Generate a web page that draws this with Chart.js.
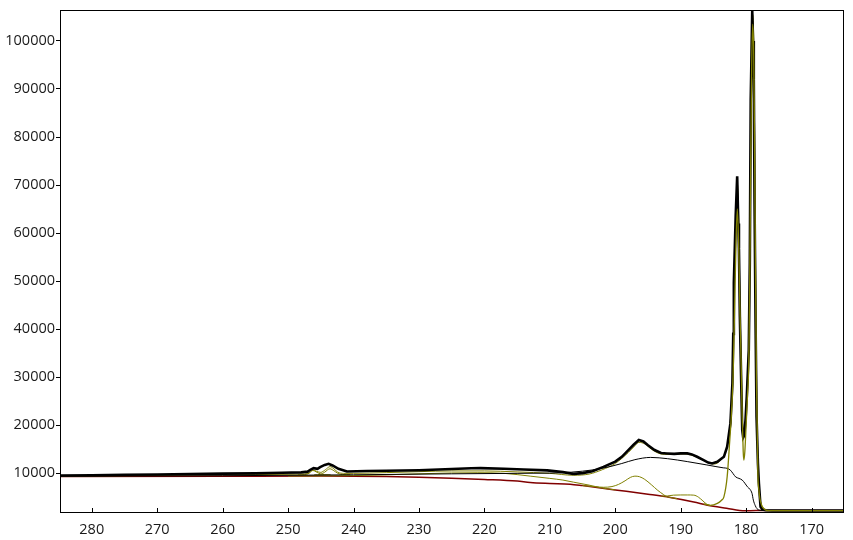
<!DOCTYPE html>
<html><head><meta charset="utf-8">
<script src="https://cdn.jsdelivr.net/npm/chart.js@4.4.0/dist/chart.umd.min.js"></script>
<style>html,body{margin:0;padding:0;background:#fff;} #wrap{width:853px;height:540px;position:relative;}</style>
</head><body><div id="wrap"><canvas id="c"></canvas></div>
<script>
// Axis ticks
const xTicks = [280,270,260,250,240,230,220,210,200,190,180,170];
const yTicks = [10000,20000,30000,40000,50000,60000,70000,80000,90000,100000];

// Measured spectrum [binding energy, counts]
const measured = [[285,9500],[280,9550],[275,9650],[270,9700],[265,9800],[260,9900],[255,9950],[251,10060],[248,10150],[247,10300],[246.6,10700],[246.1,11040],[245.5,10900],[245.1,11250],[244.4,11700],[243.8,11940],[243.2,11600],[242.3,10900],[241,10350],[238,10450],[235,10500],[230,10600],[226,10800],[222,11000],[220.6,11040],[217,10900],[214,10750],[210.4,10560],[208,10200],[206.4,9850],[205,10000],[203.5,10400],[201.8,11300],[200,12400],[199,13400],[198,14800],[197.2,15900],[196.4,16900],[195.7,16600],[195,15800],[194,14800],[193,14200],[192.1,14100],[191,14000],[190,14100],[189,14100],[188.3,13900],[187.5,13400],[186.5,12700],[185.8,12200],[185.2,12000],[184.4,12360],[183.9,12900],[183.4,13400],[182.9,15500],[182.4,20400],[182.1,28700],[181.97,39000],[181.88,49600],[181.6,63500],[181.37,71800],[181.2,62000],[181.1,56700],[180.96,42600],[180.75,28700],[180.6,19000],[180.45,17400],[180.3,17800],[180.1,21000],[179.9,26000],[179.6,35600],[179.44,53800],[179.3,87800],[179.22,94100],[179.07,106300],[178.95,100000],[178.83,92000],[178.72,67000],[178.56,41300],[178.41,21700],[178.2,12000],[178.05,7850],[177.8,2970],[177.5,2400],[177,2250],[176,2200],[174,2200],[170,2200],[165.2,2200]];

// Fit envelope
const envelope = [[285,9350],[275,9450],[265,9600],[255,9700],[250,9750],[248,9800],[247,9900],[246.2,10650],[245.6,10350],[245,10150],[244.3,10700],[243.6,11350],[243,10900],[242.4,10200],[241.5,9950],[240,9950],[235,10100],[230,10300],[225,10450],[220,10450],[215,10250],[210,9950],[206.4,9550],[204,9800],[202,10700],[200,12000],[198,14300],[197,15700],[196.4,16400],[195.5,16100],[194.5,15000],[193.5,14200],[192.5,13900],[191,13900],[189.5,14000],[188.5,13800],[187.5,13300],[186.5,12600],[185.5,12000],[184.8,11900],[184.4,12100],[183.8,12800],[183.4,13600],[182.9,15500],[182.5,20000],[182.1,28000],[181.9,42000],[181.6,60000],[181.37,70500],[181.15,64000],[180.95,47000],[180.75,32000],[180.6,22500],[180.4,18000],[180.2,19500],[180,24000],[179.8,30000],[179.6,38000],[179.45,55000],[179.3,82000],[179.15,100000],[179,105500],[178.85,101000],[178.72,83000],[178.56,52000],[178.41,30000],[178.2,12000],[178.05,8000],[177.9,5000],[177.6,3200],[177.3,2600],[177,2300],[176,2200],[165.2,2200]];

// Thin black curve
const thinCurve = [[285,9350],[260,9450],[240,9650],[225,9850],[215,9950],[210,10000],[208.4,10060],[205,10400],[202,11000],[199,12000],[197,12800],[194.6,13270],[192,13000],[189,12400],[186,11700],[183.5,11100],[182.9,11000],[182.4,10600],[182,9900],[181.6,9200],[181.1,8900],[180.6,8550],[180.2,7900],[179.8,7140],[179.4,6600],[179.1,5760],[178.9,4370],[178.6,3200],[178.35,2600],[177.8,2250],[165.2,2200]];

// Background
const background = [[285,9300],[260,9350],[245,9380],[235,9300],[230,9160],[225,8950],[220,8690],[215,8350],[213,8050],[210,7850],[206.9,7700],[205,7400],[200,6500],[195,5600],[191.6,4930],[188,4000],[185.9,3320],[183,2700],[180.2,2150],[178.5,2200],[165.2,2200]];

// Components
const compDoublet = [[186.5,3600],[185.5,3300],[184.4,3700],[183.8,4300],[183.4,5050],[182.9,9230],[182.5,16900],[182.3,21000],[182,30000],[181.75,45000],[181.55,58000],[181.35,65000],[181.15,58000],[180.95,44000],[180.75,32000],[180.6,21700],[180.45,14500],[180.35,12700],[180.2,14500],[180,20000],[179.8,26000],[179.6,33000],[179.45,50000],[179.3,75000],[179.15,95000],[179,103500],[178.85,98000],[178.72,80000],[178.56,50000],[178.41,28000],[178.2,9500],[178.05,6500],[177.9,4700],[177.6,3200],[177.3,2600],[177,2300],[176.5,2200],[165.2,2200]];
const comp197 = [[205,7400],[203,7150],[201.8,7050],[200.5,7200],[199.5,7650],[198.5,8400],[197.7,9100],[197,9370],[196.3,9250],[195.5,8700],[194.5,7600],[193.5,6400],[192.6,5500],[192.1,5050],[191.6,4930],[190.5,4650]];
const comp188 = [[193,5200],[192,5250],[191.1,5410],[190,5450],[189,5450],[188,5410],[187.3,5000],[186.6,4200],[186,3500],[185.5,3250]];
const comp246 = [[248.5,9650],[247.5,9700],[246.8,9950],[246.2,10550],[245.7,10250],[245.1,9850],[244.5,9680],[243.5,9650]];
const comp243 = [[246,9650],[245,9750],[244.4,10200],[243.6,10900],[243,10500],[242.4,9950],[241.7,9700],[240.5,9650]];
const comp222 = [[250,9400],[245,9420],[240,9480],[235,9650],[230,9850],[225,10030],[221,10080],[217,9950],[213,9370],[210,8900],[208,8550],[206.4,8120],[204,7500],[202,6900],[200,6500]];

const toXY = arr => arr.map(p => ({x: p[0], y: p[1]}));
const OLIVE = '#808000';
const olive = (arr, w) => ({data: toXY(arr), borderColor: OLIVE, borderWidth: w || 1, pointRadius: 0, cubicInterpolationMode: 'monotone', fill: false});

Chart.defaults.font.family = "'Open Sans', sans-serif";
Chart.defaults.font.size = 14;
Chart.defaults.color = '#1a1a1a';

const framePlugin = {
  id: 'frame',
  afterDraw(chart) {
    const {ctx, chartArea: a, scales} = chart;
    const x = scales.x;
    ctx.save();
    ctx.strokeStyle = '#000';
    ctx.lineWidth = 1;
    ctx.strokeRect(Math.round(a.left) + 0.5, Math.round(a.top) + 0.5, Math.round(a.right - a.left), Math.round(a.bottom - a.top));
    ctx.beginPath();
    xTicks.forEach(v => {
      const px = Math.round(x.getPixelForValue(v)) + 0.5;
      ctx.moveTo(px, a.bottom);
      ctx.lineTo(px, a.bottom - 4);
    });
    ctx.stroke();
    ctx.restore();
  }
};

new Chart(document.getElementById('c'), {
  type: 'line',
  data: {
    datasets: [
      olive(compDoublet, 1.3),
      {data: toXY(measured), borderColor: '#000', borderWidth: 2.6, pointRadius: 0, tension: 0, fill: false},
      {data: toXY(thinCurve), borderColor: '#000', borderWidth: 1, pointRadius: 0, cubicInterpolationMode: 'monotone', fill: false},
      olive(envelope),
      olive(comp197),
      olive(comp188),
      olive(comp246),
      olive(comp243),
      olive(comp222),
      {data: toXY(background), borderColor: '#800000', borderWidth: 1.5, pointRadius: 0, cubicInterpolationMode: 'monotone', fill: false}
    ]
  },
  options: {
    responsive: true,
    maintainAspectRatio: false,
    animation: false,
    devicePixelRatio: 1,
    layout: {padding: {top: 10, right: 10, left: 0, bottom: 0}},
    plugins: {legend: {display: false}, tooltip: {enabled: false}},
    scales: {
      x: {
        type: 'linear', reverse: true, min: 165.2, max: 284.85,
        afterBuildTicks: s => { s.ticks = xTicks.map(v => ({value: v})); },
        afterFit: s => { s.height = 28; },
        grid: {display: true, drawOnChartArea: false, drawTicks: false, color: 'rgba(0,0,0,0)'},
        border: {display: false},
        ticks: {padding: 9, maxRotation: 0, autoSkip: false, font: {size: 14.5}, color: '#1a1a1a'}
      },
      y: {
        type: 'linear', min: 1900, max: 106450,
        afterBuildTicks: s => { s.ticks = yTicks.map(v => ({value: v})); },
        afterFit: s => { s.width = 60; },
        grid: {display: true, drawOnChartArea: false, drawTicks: true, tickLength: 4, color: '#000'},
        border: {display: false},
        ticks: {padding: 1, font: {size: 14.5}, color: '#1a1a1a', callback: v => String(v)}
      }
    }
  },
  plugins: [framePlugin]
});
</script>
</body></html>
